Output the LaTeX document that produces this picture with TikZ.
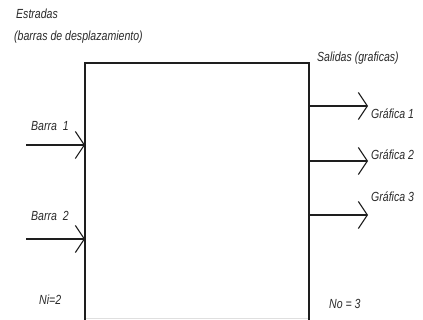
\documentclass[tikz,border=0pt]{standalone}
\usepackage{fontspec}
\setmainfont{Liberation Sans}[FakeStretch=0.8]
\usetikzlibrary{arrows.meta}
\definecolor{ink}{HTML}{1E1E1E}
\definecolor{txt}{HTML}{2A2A2A}
\tikzset{
  lbl/.style={font=\itshape\fontsize{13.2}{15}\selectfont, text=txt, inner sep=0pt, anchor=west},
  sig/.style={draw=ink, line width=1.8pt,
    -{Straight Barb[length=9pt,width=27pt,line width=1.1pt]}},
  frame/.style={draw=ink, line width=1.8pt}
}
\begin{document}
\begin{tikzpicture}[x=1pt,y=-1pt]
  \useasboundingbox (0,0) rectangle (423,320);
  \fill[white] (0,0) rectangle (423,320);

  % system block
  \coordinate (bl) at (85,320);
  \coordinate (tl) at (85,63);
  \coordinate (tr) at (309,63);
  \coordinate (br) at (309,320);
  \draw[frame] (bl) -- (tl) -- (tr) -- (br);
  \draw[gray!25, line width=0.8pt] (86,318) -- (308,318);

  % inputs
  \coordinate (i1) at (26,145);
  \coordinate (i1e) at (85,145);
  \coordinate (i2) at (26,239);
  \coordinate (i2e) at (85,239);
  \draw[sig] (i1) -- (i1e);
  \draw[sig] (i2) -- (i2e);

  % outputs
  \coordinate (o1s) at (309,106);
  \coordinate (o1) at (368,106);
  \coordinate (o2s) at (309,161);
  \coordinate (o2) at (368,161);
  \coordinate (o3s) at (309,215);
  \coordinate (o3) at (368,215);
  \draw[sig] (o1s) -- (o1);
  \draw[sig] (o2s) -- (o2);
  \draw[sig] (o3s) -- (o3);

  % labels
  \node[lbl] (tin) at (16,14) {Estradas};
  \node[lbl] (tin2) at (14,37) {(barras de desplazamiento)};
  \node[lbl] (tout) at (317,58) {Salidas (graficas)};
  \node[lbl] (b1) at (31,126) {Barra\ \ 1};
  \node[lbl] (b2) at (31,216) {Barra\ \ 2};
  \node[lbl] (g1) at (371,114) {Gráfica 1};
  \node[lbl] (g2) at (371,155) {Gráfica 2};
  \node[lbl] (g3) at (371,197) {Gráfica 3};
  \node[lbl] (ni) at (39,300) {Ni=2};
  \node[lbl] (no) at (329,304) {No = 3};
\end{tikzpicture}
\end{document}
